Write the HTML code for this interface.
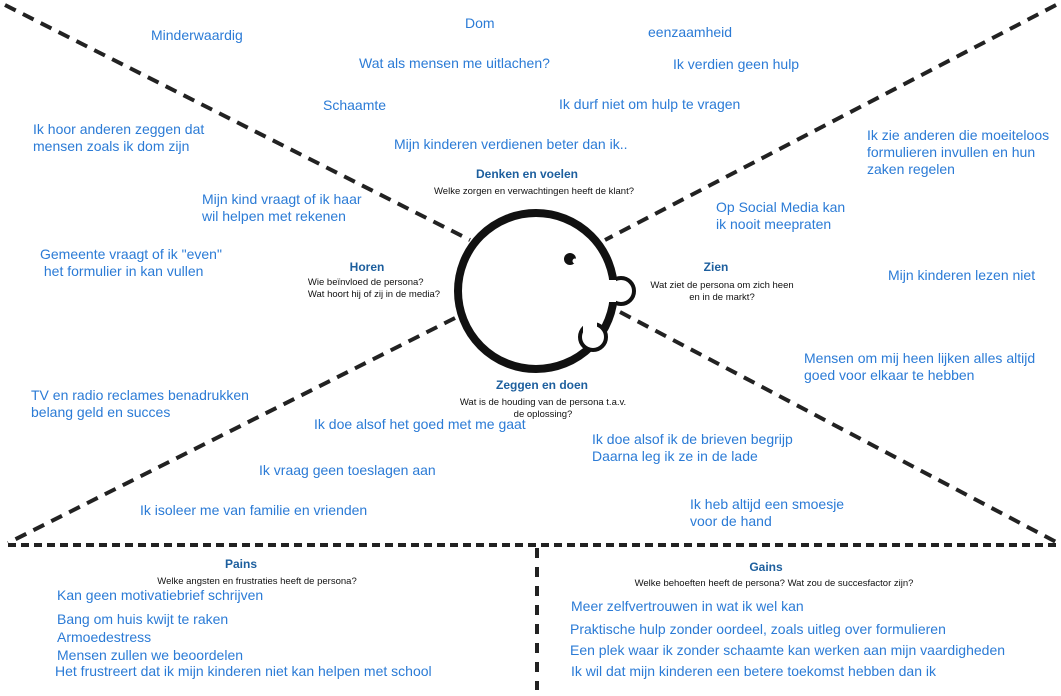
<!DOCTYPE html>
<html><head><meta charset="utf-8"><style>
body{margin:0;width:1061px;height:696px;background:#fff;overflow:hidden;position:relative;font-family:"Liberation Sans",sans-serif}
.t{position:absolute;color:#2b7bd6;font-size:14px;line-height:17px;white-space:nowrap}
.h{position:absolute;color:#1d5f9e;font-weight:bold;font-size:12px;white-space:nowrap;transform:translateX(-50%)}
.s{position:absolute;color:#111;font-size:9.5px;line-height:12px;white-space:nowrap;transform:translateX(-50%);text-align:center}
svg{position:absolute;left:0;top:0}
</style></head><body>
<svg width="1061" height="696">
<g stroke="#222" stroke-width="4" stroke-dasharray="12,8" fill="none">
<line x1="5" y1="5" x2="470" y2="240"/>
<line x1="1056" y1="5" x2="605" y2="240"/>
<line x1="455" y1="318" x2="8" y2="543"/>
<line x1="620" y1="312" x2="1058" y2="543"/>
<line x1="8" y1="545" x2="1058" y2="545" stroke-dasharray="8,5"/>
<line x1="537" y1="548" x2="537" y2="690" stroke-dasharray="10,9"/>
</g>
<circle cx="536" cy="291" r="78" fill="#fff" stroke="#111" stroke-width="8"/>
<circle cx="621" cy="291" r="13" fill="#fff" stroke="#111" stroke-width="4"/>
<circle cx="593" cy="337" r="13" fill="#fff" stroke="#111" stroke-width="4"/>
<rect x="604" y="280" width="12" height="22" fill="#fff"/>
<rect x="583" y="322" width="14" height="14" fill="#fff"/>
<circle cx="570" cy="259" r="6" fill="#111"/>
<circle cx="575" cy="261" r="2.5" fill="#fff"/>
</svg>
<div class="t" style="left:151px;top:27px">Minderwaardig</div>
<div class="t" style="left:465px;top:15px">Dom</div>
<div class="t" style="left:648px;top:24px">eenzaamheid</div>
<div class="t" style="left:359px;top:55px">Wat als mensen me uitlachen?</div>
<div class="t" style="left:673px;top:56px">Ik verdien geen hulp</div>
<div class="t" style="left:323px;top:97px">Schaamte</div>
<div class="t" style="left:559px;top:96px">Ik durf niet om hulp te vragen</div>
<div class="t" style="left:33px;top:121px">Ik hoor anderen zeggen dat<br>mensen zoals ik dom zijn</div>
<div class="t" style="left:394px;top:136px">Mijn kinderen verdienen beter dan ik..</div>
<div class="t" style="left:867px;top:127px">Ik zie anderen die moeiteloos<br>formulieren invullen en hun<br>zaken regelen</div>
<div class="t" style="left:202px;top:191px">Mijn kind vraagt of ik haar<br>wil helpen met rekenen</div>
<div class="t" style="left:716px;top:199px">Op Social Media kan<br>ik nooit meepraten</div>
<div class="t" style="left:40px;top:246px">Gemeente vraagt of ik "even"<br>&nbsp;het formulier in kan vullen</div>
<div class="t" style="left:888px;top:267px">Mijn kinderen lezen niet</div>
<div class="t" style="left:804px;top:350px">Mensen om mij heen lijken alles altijd<br>goed voor elkaar te hebben</div>
<div class="t" style="left:31px;top:387px">TV en radio reclames benadrukken<br>belang geld en succes</div>
<div class="t" style="left:314px;top:416px">Ik doe alsof het goed met me gaat</div>
<div class="t" style="left:592px;top:431px">Ik doe alsof ik de brieven begrijp<br>Daarna leg ik ze in de lade</div>
<div class="t" style="left:259px;top:462px">Ik vraag geen toeslagen aan</div>
<div class="t" style="left:690px;top:496px">Ik heb altijd een smoesje<br>voor de hand</div>
<div class="t" style="left:140px;top:502px">Ik isoleer me van familie en vrienden</div>

<div class="h" style="left:527px;top:167px">Denken en voelen</div>
<div class="s" style="left:534px;top:186px">Welke zorgen en verwachtingen heeft de klant?</div>
<div class="h" style="left:367px;top:260px">Horen</div>
<div class="s" style="left:374px;top:277px;text-align:left">Wie beïnvloed de persona?<br>Wat hoort hij of zij in de media?</div>
<div class="h" style="left:716px;top:260px">Zien</div>
<div class="s" style="left:722px;top:280px">Wat ziet de persona om zich heen<br>en in de markt?</div>
<div class="h" style="left:542px;top:378px">Zeggen en doen</div>
<div class="s" style="left:543px;top:397px">Wat is de houding van de persona t.a.v.<br>de oplossing?</div>

<div class="h" style="left:241px;top:557px">Pains</div>
<div class="s" style="left:257px;top:576px">Welke angsten en frustraties heeft de persona?</div>
<div class="h" style="left:766px;top:560px">Gains</div>
<div class="s" style="left:774px;top:578px">Welke behoeften heeft de persona? Wat zou de succesfactor zijn?</div>
<div class="t" style="left:57px;top:587px">Kan geen motivatiebrief schrijven</div>
<div class="t" style="left:57px;top:611px">Bang om huis kwijt te raken</div>
<div class="t" style="left:57px;top:629px">Armoedestress</div>
<div class="t" style="left:57px;top:647px">Mensen zullen we beoordelen</div>
<div class="t" style="left:55px;top:663px">Het frustreert dat ik mijn kinderen niet kan helpen met school</div>
<div class="t" style="left:571px;top:598px">Meer zelfvertrouwen in wat ik wel kan</div>
<div class="t" style="left:570px;top:621px">Praktische hulp zonder oordeel, zoals uitleg over formulieren</div>
<div class="t" style="left:570px;top:642px">Een plek waar ik zonder schaamte kan werken aan mijn vaardigheden</div>
<div class="t" style="left:571px;top:663px">Ik wil dat mijn kinderen een betere toekomst hebben dan ik</div>
</body></html>
